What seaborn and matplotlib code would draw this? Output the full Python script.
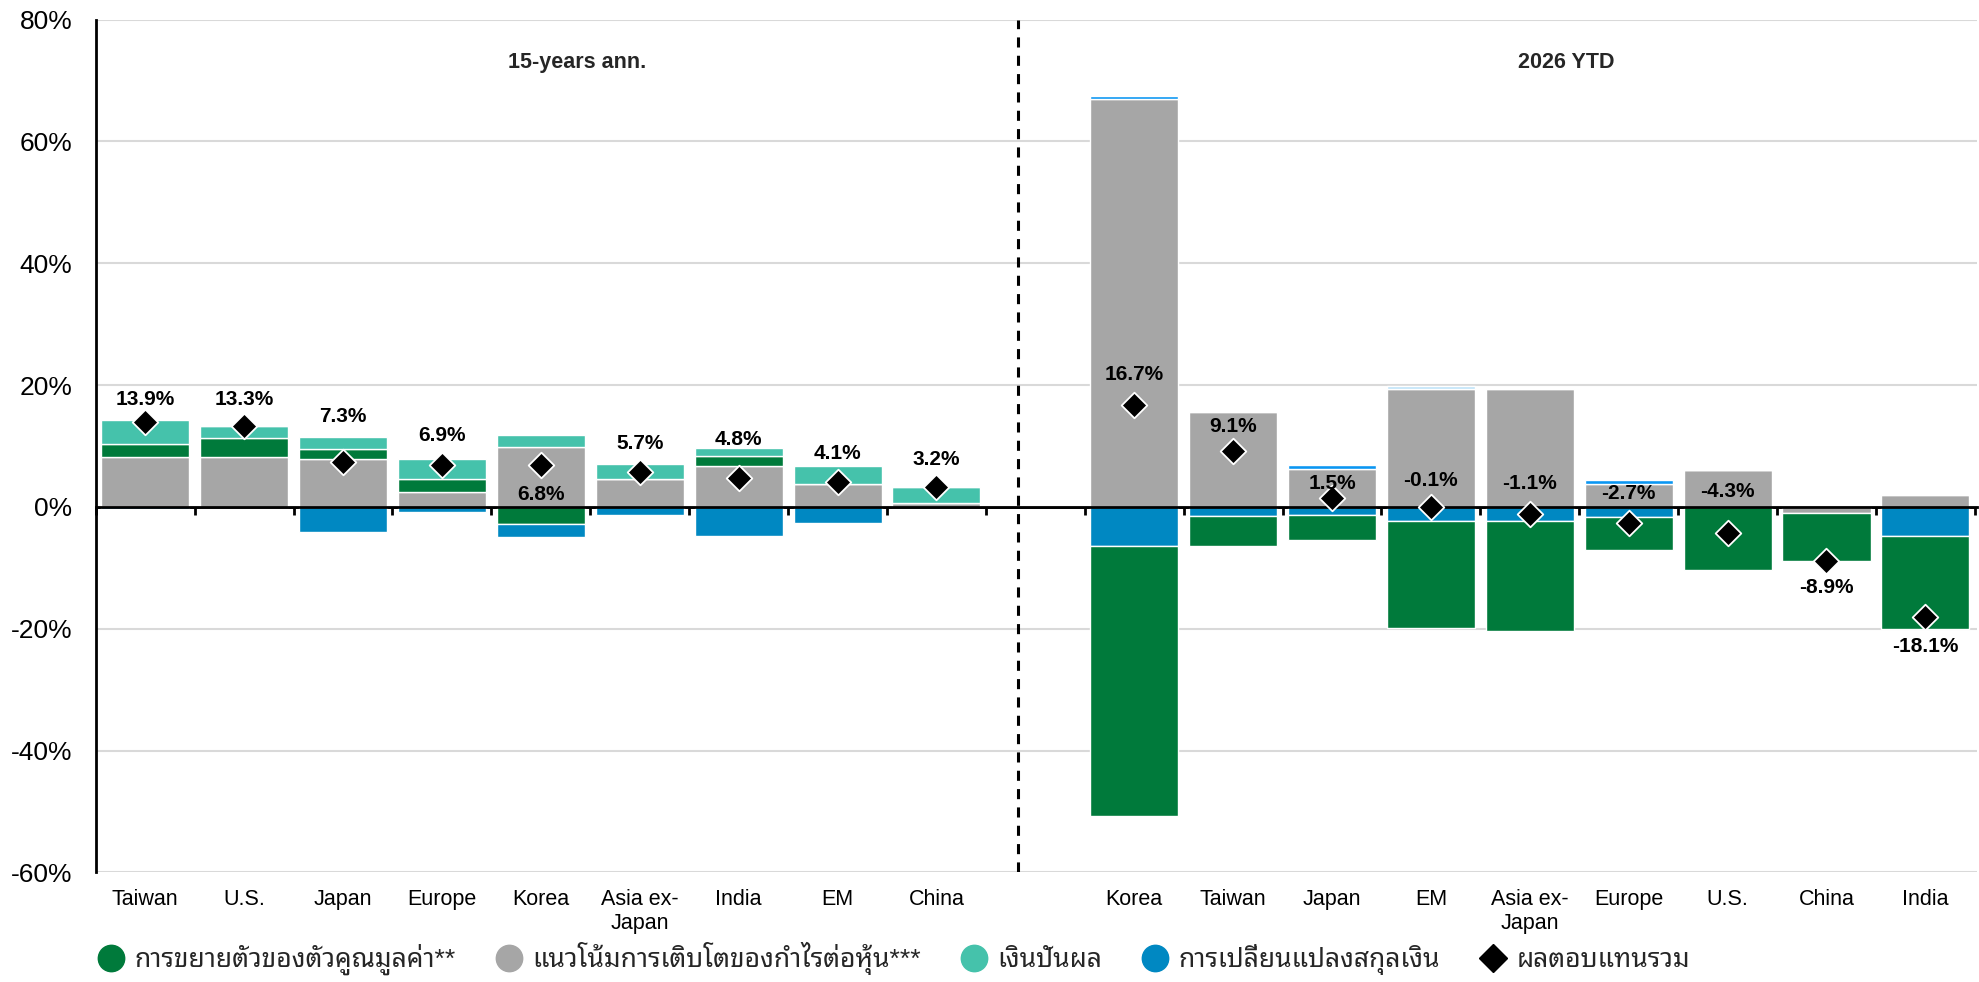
import numpy as np
import pandas as pd
import matplotlib
matplotlib.use("Agg")
import matplotlib.pyplot as plt
import seaborn as sns
from matplotlib import font_manager as fm
from matplotlib.ft2font import FT2Font
from matplotlib.lines import Line2D
from matplotlib.ticker import FuncFormatter

# ---------------- data ----------------
left_cats = ["Taiwan", "U.S.", "Japan", "Europe", "Korea", "Asia ex-\nJapan", "India", "EM", "China"]
left_eps = [8.2, 8.2, 7.8, 2.5, 9.9, 4.5, 6.7, 3.8, 0.6]
left_mult = [2.2, 3.1, 1.7, 2.0, -2.8, 0.0, 1.7, 0.0, 0.0]
left_div = [3.9, 2.0, 2.0, 3.3, 1.9, 2.5, 1.2, 2.9, 2.6]
left_fx = [-0.4, 0.0, -4.2, -0.9, -2.1, -1.3, -4.8, -2.6, 0.0]
left_total = [13.9, 13.3, 7.3, 6.9, 6.8, 5.7, 4.8, 4.1, 3.2]

right_cats = ["Korea", "Taiwan", "Japan", "EM", "Asia ex-\nJapan", "Europe", "U.S.", "China", "India"]
right_eps = [66.9, 15.5, 6.2, 19.3, 19.3, 3.8, 6.1, -1.0, 1.9]
right_div = [0.6, 0.0, 0.7, 0.5, 0.0, 0.6, 0.0, 0.0, 0.0]
right_fx = [-6.4, -1.5, -1.3, -2.4, -2.4, -1.6, 0.0, 0.0, -4.7]
right_mult = [-44.4, -4.9, -4.1, -17.5, -18.0, -5.5, -10.4, -7.9, -15.3]
right_total = [16.7, 9.1, 1.5, -0.1, -1.1, -2.7, -4.3, -8.9, -18.1]

group_titles = ["15-years ann.", "2026 YTD"]
legend_labels = ["การขยายตัวของตัวคูณมูลค่า**", "แนวโน้มการเติบโตของกำไรต่อหุ้น***",
                 "เงินปันผล", "การเปลี่ยนแปลงสกุลเงิน", "ผลตอบแทนรวม"]

# label placement (style, data units)
left_label_y = [17.6, 17.7, 14.9, 11.8, 2.0, 10.4, 11.1, 8.8, 7.7]
right_label_y = [21.7, 13.2, 3.8, 4.3, 3.9, 2.2, 2.5, -13.2, -22.9]

# ---------------- fonts ----------------
def find_thai_font():
    cands = []
    for f in fm.fontManager.ttflist:
        try:
            cm = FT2Font(f.fname).get_charmap()
        except Exception:
            continue
        if 0x0E01 in cm and 0x0E33 in cm:
            cands.append(f.name)
    for key in ["Noto Sans Thai", "Sans Thai", "Thai"]:
        for n in cands:
            if key in n:
                return n
    return cands[0] if cands else None

sns.set_theme(style="white")
thai = find_thai_font()
families = ["Liberation Sans"] + ([thai] if thai else []) + ["DejaVu Sans"]
plt.rcParams["font.family"] = families

# ---------------- colours ----------------
C_MULT = "#007A3B"
C_EPS = "#A6A6A6"
C_DIV = "#45C2AB"
C_FX = "#0088C2"
C_DIV_R = ["#0A96F2", "#0A96F2", "#0A96F2", "#BFE3F8", "#0A96F2", "#0A96F2", "#0A96F2", "#0A96F2", "#0A96F2"]

# ---------------- figure ----------------
fig = plt.figure(figsize=(19.79, 9.82), dpi=100)
ax = fig.add_axes([0.0484, 0.1117, 0.9505, 0.8683])

left_x = np.arange(len(left_cats))
right_x = np.arange(len(right_cats)) + len(left_cats) + 1
W = 0.89

def draw_group(xs, series, colors):
    pos = np.zeros(len(xs))
    neg = np.zeros(len(xs))
    for vals, col in zip(series, colors):
        vals = np.asarray(vals, dtype=float)
        bottoms = np.where(vals >= 0, pos, neg)
        ax.bar(xs, vals, bottom=bottoms, width=W, color=col, edgecolor="white",
               linewidth=1.0, zorder=3)
        pos = pos + np.where(vals >= 0, vals, 0)
        neg = neg + np.where(vals < 0, vals, 0)

draw_group(left_x, [left_eps, left_mult, left_div, left_fx], [C_EPS, C_MULT, C_DIV, C_FX])
draw_group(right_x, [right_eps, right_div, right_fx, right_mult], [C_EPS, C_DIV_R, C_FX, C_MULT])

# totals as diamonds
tot_df = pd.DataFrame({"x": np.concatenate([left_x, right_x]),
                       "total": left_total + right_total})
sns.scatterplot(data=tot_df, x="x", y="total", marker="D", s=170, color="black",
                edgecolor="white", linewidth=1.3, zorder=6, ax=ax, legend=False)

# labels
for xs, tots, ly in [(left_x, left_total, left_label_y), (right_x, right_total, right_label_y)]:
    for x, t, y in zip(xs, tots, ly):
        ax.text(x, y, f"{t:.1f}%", ha="center", va="center", fontsize=15,
                fontweight="bold", color="black", zorder=7)

# group titles
ax.text(left_x[0] + 4.37, 72.9, group_titles[0], ha="center", va="center",
        fontsize=15.5, fontweight="bold")
ax.text(right_x[0] + 4.37, 72.9, group_titles[1], ha="center", va="center",
        fontsize=15.5, fontweight="bold")

# axes styling
ax.set_xlim(-0.5, 18.52)
ax.set_ylim(-60, 80)
ax.set_yticks(np.arange(-60, 81, 20))
ax.yaxis.set_major_formatter(FuncFormatter(lambda v, p: f"{v:.0f}%"))
ax.tick_params(axis="y", length=0, pad=17, labelsize=19, colors="black")
ax.set_xticks(np.concatenate([left_x, right_x]))
ax.set_xticklabels(left_cats + right_cats)
ax.tick_params(axis="x", length=0, pad=12, labelsize=15.5, colors="black")
ax.set_xlabel("")
ax.set_ylabel("")
ax.yaxis.grid(True, color="#D9D9D9", linewidth=1.5, zorder=0)
ax.xaxis.grid(False)
ax.set_axisbelow(True)
for s in ["top", "right", "bottom"]:
    ax.spines[s].set_visible(False)
ax.spines["left"].set_color("black")
ax.spines["left"].set_linewidth(2)

# zero line with boundary ticks
ax.axhline(0, color="black", linewidth=2, zorder=5)
sec = ax.secondary_xaxis(60 / 140)
sec.set_xticks(np.arange(-0.5, 19, 1.0))
sec.tick_params(axis="x", direction="out", length=6, width=2, labelbottom=False,
                colors="black")
sec.spines["bottom"].set_color("black")
sec.spines["bottom"].set_linewidth(2)

# divider
ax.axvline(8.82, color="black", linestyle=(0, (3.3, 2.7)), linewidth=2.2, zorder=4)

# legend
handles = [
    Line2D([], [], marker="o", ls="", markersize=19, markerfacecolor=C_MULT, markeredgecolor=C_MULT),
    Line2D([], [], marker="o", ls="", markersize=19, markerfacecolor=C_EPS, markeredgecolor=C_EPS),
    Line2D([], [], marker="o", ls="", markersize=19, markerfacecolor=C_DIV, markeredgecolor=C_DIV),
    Line2D([], [], marker="o", ls="", markersize=19, markerfacecolor=C_FX, markeredgecolor=C_FX),
    Line2D([], [], marker="D", ls="", markersize=14, markerfacecolor="black", markeredgecolor="black"),
]
fig.legend(handles, legend_labels, loc="center left", bbox_to_anchor=(0.036, 0.024),
           ncol=5, frameon=False, fontsize=19, handletextpad=0.3, columnspacing=1.4,
           handlelength=1.2)

fig.savefig("out.png", dpi=100)
